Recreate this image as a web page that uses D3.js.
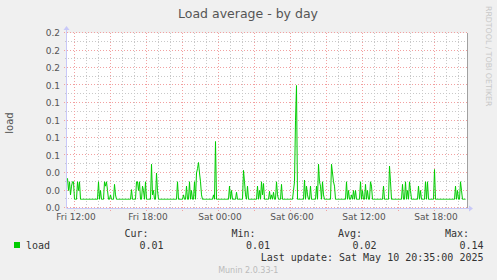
<!doctype html>
<html lang="en">
   <head>
      <meta charset="utf-8">
      <title>Load average - by day</title>
      <script src="https://d3js.org/d3.v7.min.js"></script>
      <style>
         body { margin: 0; background: #f0f0f0; }
         svg { display: block; }
         text { font-family: "DejaVu Sans", sans-serif; }
         .mono { font-family: "DejaVu Sans Mono", monospace; font-size: 10px; fill: #333; }
      </style>
   </head>
   <body>
      <svg id="graph" width="497" height="280"></svg>
      <script>
      // load values, one every 5 minutes
      var startTime = new Date(2025, 4, 9, 11, 25);
      var endTime = new Date(2025, 4, 10, 20, 45);
      var stepMinutes = 5;
      var load = [
         0.034,0.02,0.03,0.015,0.025,0.03,0.03,0.01,0.01,0.01, 0.03,0.02,0.03,0.01,0.01,0.01,0.01,0.01,0.01,0.01,
         0.01,0.01,0.01,0.01,0.01,0.01,0.01,0.01,0.01,0.01, 0.01,0.03,0.01,0.02,0.01,0.01,0.01,0.03,0.025,0.03,
         0.02,0.01,0.01,0.015,0.01,0.01,0.01,0.027,0.015,0.01, 0.01,0.01,0.01,0.01,0.01,0.01,0.01,0.01,0.01,0.01,
         0.01,0.01,0.01,0.01,0.021,0.01,0.01,0.01,0.01,0.03, 0.03,0.02,0.03,0.01,0.01,0.025,0.02,0.01,0.03,0.01,
         0.01,0.01,0.01,0.01,0.05,0.015,0.02,0.01,0.01,0.04, 0.02,0.01,0.01,0.01,0.01,0.01,0.01,0.01,0.01,0.01,
         0.01,0.01,0.01,0.01,0.01,0.01,0.01,0.01,0.01,0.01, 0.03,0.01,0.01,0.01,0.01,0.01,0.015,0.01,0.01,0.025,
         0.01,0.01,0.03,0.01,0.02,0.01,0.01,0.03,0.01,0.04, 0.045,0.052,0.04,0.03,0.015,0.01,0.01,0.01,0.01,0.01,
         0.01,0.01,0.01,0.01,0.01,0.01,0.015,0.01,0.076,0.01, 0.01,0.01,0.01,0.01,0.01,0.01,0.01,0.01,0.01,0.01,
         0.01,0.01,0.025,0.01,0.02,0.01,0.01,0.01,0.01,0.018, 0.01,0.01,0.01,0.01,0.01,0.01,0.043,0.03,0.015,0.01,
         0.025,0.01,0.01,0.01,0.01,0.01,0.01,0.01,0.01,0.01, 0.025,0.01,0.02,0.01,0.03,0.015,0.028,0.01,0.01,0.01,
         0.01,0.01,0.019,0.01,0.015,0.01,0.018,0.01,0.01,0.03, 0.015,0.01,0.01,0.01,0.027,0.01,0.01,0.01,0.01,0.01,
         0.01,0.01,0.01,0.01,0.01,0.01,0.02,0.03,0.1,0.14, 0.01,0.01,0.01,0.01,0.01,0.01,0.01,0.032,0.01,0.025,
         0.015,0.01,0.01,0.025,0.01,0.01,0.01,0.01,0.01,0.025, 0.01,0.05,0.03,0.025,0.01,0.03,0.015,0.01,0.01,0.01,
         0.01,0.01,0.01,0.01,0.05,0.04,0.03,0.025,0.01,0.01, 0.01,0.01,0.01,0.01,0.01,0.01,0.01,0.01,0.01,0.03,
         0.01,0.02,0.01,0.01,0.015,0.01,0.02,0.01,0.02,0.01, 0.01,0.01,0.01,0.03,0.01,0.02,0.01,0.01,0.027,0.01,
         0.02,0.01,0.01,0.03,0.025,0.01,0.01,0.01,0.01,0.01, 0.01,0.01,0.01,0.01,0.01,0.01,0.025,0.01,0.01,0.01,
         0.01,0.01,0.048,0.03,0.01,0.01,0.01,0.01,0.01,0.01, 0.01,0.01,0.01,0.01,0.01,0.027,0.01,0.01,0.03,0.01,
         0.02,0.01,0.03,0.02,0.01,0.01,0.01,0.01,0.01,0.01, 0.01,0.025,0.01,0.02,0.01,0.01,0.01,0.01,0.03,0.01,
         0.03,0.01,0.01,0.01,0.01,0.01,0.01,0.044,0.01,0.01, 0.01,0.01,0.01,0.01,0.01,0.01,0.01,0.01,0.01,0.01,
         0.01,0.01,0.01,0.01,0.01,0.01,0.01,0.01,0.025,0.01, 0.02,0.01,0.01,0.03,0.02,0.01,0.01,0.01,0.01
      ];
      var yMajorTicks = [0, 0.02, 0.04, 0.06, 0.08, 0.10, 0.12, 0.14, 0.16, 0.18, 0.20];
      var yMinorTicks = [0.01, 0.03, 0.05, 0.07, 0.09, 0.11, 0.13, 0.15, 0.17, 0.19];
      var statLabels = ["Cur:", "Min:", "Avg:", "Max:"];
      var statValues = ["0.01", "0.01", "0.02", "0.14"];
      var lastUpdate = "Last update: Sat May 10 20:35:00 2025";

      var svg = d3.select("#graph"),
         plotLeft = 67, plotTop = 33, width = 400, height = 175;

      svg.append("rect").attr("width", 497).attr("height", 280).attr("fill", "#f0f0f0");

      var x = d3.scaleTime().domain([startTime, endTime]).range([0, width]);
      var y = d3.scaleLinear().domain([0, 0.2]).range([height, 0]);

      var g = svg.append("g").attr("transform", "translate(" + plotLeft + "," + plotTop + ")");
      g.append("rect").attr("width", width).attr("height", height).attr("fill", "#fff");

      function crisp(v) {
         return Math.round(v) + 0.5;
      }

      var hours = x.ticks(d3.timeHour.every(1));
      var minorHours = hours.filter(function(d) { return d.getHours() % 3 != 0; });
      var majorHours = hours.filter(function(d) { return d.getHours() % 3 == 0; });

      // minor grid
      g.append("g").selectAll("line").data(minorHours).enter().append("line")
         .attr("x1", function(d) { return crisp(x(d)); })
         .attr("x2", function(d) { return crisp(x(d)); })
         .attr("y1", 0).attr("y2", height + 2)
         .attr("stroke", "#c8c8c8").attr("stroke-dasharray", "1,2");
      g.append("g").selectAll("line").data(yMinorTicks).enter().append("line")
         .attr("x1", -2).attr("x2", width)
         .attr("y1", function(d) { return crisp(y(d)) - 1; })
         .attr("y2", function(d) { return crisp(y(d)) - 1; })
         .attr("stroke", "#c8c8c8").attr("stroke-dasharray", "1,2");

      // major grid
      g.append("g").selectAll("line").data(majorHours).enter().append("line")
         .attr("x1", function(d) { return crisp(x(d)); })
         .attr("x2", function(d) { return crisp(x(d)); })
         .attr("y1", 0).attr("y2", height + 3)
         .attr("stroke", "#f2a0a0").attr("stroke-dasharray", "1,2");
      g.append("g").selectAll("line").data(yMajorTicks).enter().append("line")
         .attr("x1", -3).attr("x2", width)
         .attr("y1", function(d) { return crisp(y(d)) - 1; })
         .attr("y2", function(d) { return crisp(y(d)) - 1; })
         .attr("stroke", "#f2a0a0").attr("stroke-dasharray", "1,2");

      // y labels
      var fmt = d3.format(".1f");
      g.append("g").selectAll("text").data(yMajorTicks).enter().append("text")
         .attr("x", -7).attr("y", function(d) { return y(d) + 3; })
         .attr("text-anchor", "end").attr("font-size", "9px").attr("fill", "#555")
         .text(function(d) { return fmt(d); });

      // x labels every 6 hours
      var labelFmt = d3.timeFormat("%a %H:%M");
      g.append("g").selectAll("text").data(x.ticks(d3.timeHour.every(6))).enter().append("text")
         .attr("x", function(d) { return x(d) + 2; }).attr("y", height + 11.5)
         .attr("text-anchor", "middle").attr("font-size", "9px").attr("fill", "#555")
         .text(function(d) { return labelFmt(d); });

      // data line
      var line = d3.line()
         .x(function(d, i) { return x(new Date(+startTime + i * stepMinutes * 60000)) + 0.5; })
         .y(function(d) { return y(d); });
      g.append("path").datum(load).attr("d", line)
         .attr("fill", "none").attr("stroke", "#00cc00").attr("stroke-width", 1);

      // axes with arrows
      g.append("line").attr("x1", width + 0.5).attr("x2", width + 0.5).attr("y1", 0).attr("y2", height)
         .attr("stroke", "#a0a0a0");
      g.append("line").attr("x1", -0.5).attr("x2", -0.5).attr("y1", height).attr("y2", -4)
         .attr("stroke", "#c8c8f8");
      g.append("path").attr("d", "M-3.5,-3 L-0.5,-7 L2.5,-3 Z").attr("fill", "#c8c8f8");
      g.append("line").attr("x1", -0.5).attr("x2", width + 2).attr("y1", height + 0.5).attr("y2", height + 0.5)
         .attr("stroke", "#c8c8f8");
      g.append("path").attr("d", "M" + (width + 2) + ",-2.5 L" + (width + 6) + ",0.5 L" + (width + 2) + ",3.5 Z")
         .attr("transform", "translate(0," + height + ")").attr("fill", "#c8c8f8");

      // titles
      svg.append("text").attr("x", 248).attr("y", 18.3).attr("text-anchor", "middle")
         .attr("font-size", "12.5px").attr("fill", "#555").text("Load average - by day");
      svg.append("text").attr("transform", "translate(13,123) rotate(-90)").attr("text-anchor", "middle")
         .attr("font-size", "10px").attr("fill", "#555").text("load");
      svg.append("text").attr("transform", "translate(486,6) rotate(90)")
         .attr("font-size", "7.8px").attr("fill", "#c8c8c8").text("RRDTOOL / TOBI OETIKER");

      // legend
      svg.append("rect").attr("x", 14).attr("y", 242).attr("width", 6).attr("height", 6).attr("fill", "#00cc00");
      svg.append("text").attr("class", "mono").attr("x", 26).attr("y", 248.5).text("load");
      var labelEnds = [148.5, 255.5, 362, 469];
      var valueEnds = [163.5, 270, 376.5, 483.5];
      svg.append("g").selectAll("text").data(statLabels).enter().append("text")
         .attr("class", "mono").attr("text-anchor", "end")
         .attr("x", function(d, i) { return labelEnds[i]; }).attr("y", 236.5)
         .text(function(d) { return d; });
      svg.append("g").selectAll("text").data(statValues).enter().append("text")
         .attr("class", "mono").attr("text-anchor", "end")
         .attr("x", function(d, i) { return valueEnds[i]; }).attr("y", 248.5)
         .text(function(d) { return d; });
      svg.append("text").attr("class", "mono").attr("text-anchor", "end")
         .attr("x", 483.5).attr("y", 260.5).text(lastUpdate);
      svg.append("text").attr("x", 248.3).attr("y", 272.5).attr("text-anchor", "middle")
         .attr("font-size", "8px").attr("fill", "#bbb").text("Munin 2.0.33-1");
      </script>
   </body>
</html>
